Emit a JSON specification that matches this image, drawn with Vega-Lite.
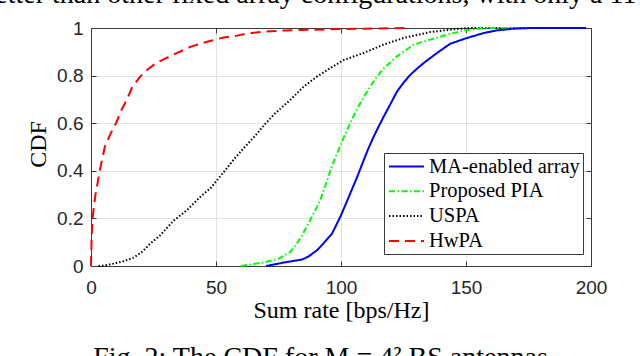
{
  "$schema": "https://vega.github.io/schema/vega-lite/v6.json",
  "width": 500,
  "height": 238,
  "autosize": {"type": "none"},
  "padding": {"left": 91, "top": 28, "right": 49, "bottom": 90},
  "background": "white",
  "config": {
    "view": {"stroke": null},
    "font": "Liberation Serif",
    "legend": {
      "orient": "none",
      "legendX": 293,
      "legendY": 125,
      "fillColor": "white",
      "strokeColor": "#3a3a3a",
      "padding": 2.5,
      "cornerRadius": 0,
      "symbolType": "M-1.75,0H1.75",
      "symbolSize": 400,
      "symbolOffset": 9,
      "symbolStrokeWidth": 2,
      "symbolFillColor": "transparent",
      "labelFont": "Liberation Serif",
      "labelFontSize": 20.5,
      "labelColor": "black",
      "labelOffset": 11.5,
      "rowPadding": 2.8,
      "labelLimit": 400
    }
  },
  "datasets": {
    "curves": [
      {"series": "HwPA", "rate": 0, "cdf": 0},
      {"series": "HwPA", "rate": 0.2, "cdf": 0.1},
      {"series": "HwPA", "rate": 0.6, "cdf": 0.2},
      {"series": "HwPA", "rate": 1.8, "cdf": 0.3},
      {"series": "HwPA", "rate": 3.5, "cdf": 0.4},
      {"series": "HwPA", "rate": 5.5, "cdf": 0.5},
      {"series": "HwPA", "rate": 8, "cdf": 0.56},
      {"series": "HwPA", "rate": 10, "cdf": 0.6},
      {"series": "HwPA", "rate": 12.4, "cdf": 0.66},
      {"series": "HwPA", "rate": 14.4, "cdf": 0.7},
      {"series": "HwPA", "rate": 16.4, "cdf": 0.75},
      {"series": "HwPA", "rate": 19.7, "cdf": 0.796},
      {"series": "HwPA", "rate": 22.4, "cdf": 0.824},
      {"series": "HwPA", "rate": 26.4, "cdf": 0.855},
      {"series": "HwPA", "rate": 33, "cdf": 0.888},
      {"series": "HwPA", "rate": 40, "cdf": 0.922},
      {"series": "HwPA", "rate": 46.4, "cdf": 0.942},
      {"series": "HwPA", "rate": 53, "cdf": 0.96},
      {"series": "HwPA", "rate": 58.4, "cdf": 0.968},
      {"series": "HwPA", "rate": 62, "cdf": 0.976},
      {"series": "HwPA", "rate": 69, "cdf": 0.985},
      {"series": "HwPA", "rate": 78, "cdf": 0.99},
      {"series": "HwPA", "rate": 89, "cdf": 0.993},
      {"series": "HwPA", "rate": 100, "cdf": 0.996},
      {"series": "HwPA", "rate": 115, "cdf": 0.998},
      {"series": "HwPA", "rate": 127, "cdf": 1},
      {"series": "USPA", "rate": 3, "cdf": 0},
      {"series": "USPA", "rate": 6, "cdf": 0.003},
      {"series": "USPA", "rate": 9, "cdf": 0.01},
      {"series": "USPA", "rate": 13, "cdf": 0.02},
      {"series": "USPA", "rate": 17, "cdf": 0.035},
      {"series": "USPA", "rate": 20.5, "cdf": 0.06},
      {"series": "USPA", "rate": 23.7, "cdf": 0.094},
      {"series": "USPA", "rate": 27.7, "cdf": 0.129},
      {"series": "USPA", "rate": 33, "cdf": 0.19},
      {"series": "USPA", "rate": 38.4, "cdf": 0.235},
      {"series": "USPA", "rate": 43.7, "cdf": 0.29},
      {"series": "USPA", "rate": 47.7, "cdf": 0.326},
      {"series": "USPA", "rate": 50.4, "cdf": 0.36},
      {"series": "USPA", "rate": 53.5, "cdf": 0.4},
      {"series": "USPA", "rate": 57.3, "cdf": 0.45},
      {"series": "USPA", "rate": 61.5, "cdf": 0.5},
      {"series": "USPA", "rate": 65.5, "cdf": 0.545},
      {"series": "USPA", "rate": 69.5, "cdf": 0.595},
      {"series": "USPA", "rate": 73.5, "cdf": 0.64},
      {"series": "USPA", "rate": 79.7, "cdf": 0.698},
      {"series": "USPA", "rate": 85.1, "cdf": 0.754},
      {"series": "USPA", "rate": 90.4, "cdf": 0.796},
      {"series": "USPA", "rate": 95.5, "cdf": 0.83},
      {"series": "USPA", "rate": 101, "cdf": 0.865},
      {"series": "USPA", "rate": 109, "cdf": 0.895},
      {"series": "USPA", "rate": 117, "cdf": 0.93},
      {"series": "USPA", "rate": 125, "cdf": 0.958},
      {"series": "USPA", "rate": 135.7, "cdf": 0.983},
      {"series": "USPA", "rate": 146.4, "cdf": 0.996},
      {"series": "USPA", "rate": 152, "cdf": 1},
      {"series": "USPA", "rate": 186, "cdf": 1},
      {"series": "Proposed PIA", "rate": 60, "cdf": 0},
      {"series": "Proposed PIA", "rate": 65, "cdf": 0.008},
      {"series": "Proposed PIA", "rate": 70, "cdf": 0.017},
      {"series": "Proposed PIA", "rate": 75, "cdf": 0.03},
      {"series": "Proposed PIA", "rate": 79.7, "cdf": 0.059},
      {"series": "Proposed PIA", "rate": 82, "cdf": 0.09},
      {"series": "Proposed PIA", "rate": 84, "cdf": 0.12},
      {"series": "Proposed PIA", "rate": 86, "cdf": 0.16},
      {"series": "Proposed PIA", "rate": 88, "cdf": 0.2},
      {"series": "Proposed PIA", "rate": 90, "cdf": 0.24},
      {"series": "Proposed PIA", "rate": 91.7, "cdf": 0.277},
      {"series": "Proposed PIA", "rate": 93.5, "cdf": 0.33},
      {"series": "Proposed PIA", "rate": 95.7, "cdf": 0.4},
      {"series": "Proposed PIA", "rate": 97.5, "cdf": 0.45},
      {"series": "Proposed PIA", "rate": 99.5, "cdf": 0.5},
      {"series": "Proposed PIA", "rate": 101.5, "cdf": 0.55},
      {"series": "Proposed PIA", "rate": 103.7, "cdf": 0.6},
      {"series": "Proposed PIA", "rate": 105.7, "cdf": 0.645},
      {"series": "Proposed PIA", "rate": 107.7, "cdf": 0.684},
      {"series": "Proposed PIA", "rate": 109.7, "cdf": 0.72},
      {"series": "Proposed PIA", "rate": 111.7, "cdf": 0.754},
      {"series": "Proposed PIA", "rate": 114, "cdf": 0.79},
      {"series": "Proposed PIA", "rate": 117.1, "cdf": 0.831},
      {"series": "Proposed PIA", "rate": 122.4, "cdf": 0.881},
      {"series": "Proposed PIA", "rate": 129, "cdf": 0.93},
      {"series": "Proposed PIA", "rate": 135.7, "cdf": 0.951},
      {"series": "Proposed PIA", "rate": 142.4, "cdf": 0.972},
      {"series": "Proposed PIA", "rate": 149, "cdf": 0.989},
      {"series": "Proposed PIA", "rate": 155.7, "cdf": 0.997},
      {"series": "Proposed PIA", "rate": 162, "cdf": 1},
      {"series": "Proposed PIA", "rate": 184, "cdf": 1},
      {"series": "MA-enabled array", "rate": 70, "cdf": 0},
      {"series": "MA-enabled array", "rate": 74, "cdf": 0.008},
      {"series": "MA-enabled array", "rate": 78.4, "cdf": 0.017},
      {"series": "MA-enabled array", "rate": 84.4, "cdf": 0.027},
      {"series": "MA-enabled array", "rate": 87, "cdf": 0.04},
      {"series": "MA-enabled array", "rate": 90.4, "cdf": 0.066},
      {"series": "MA-enabled array", "rate": 93, "cdf": 0.095},
      {"series": "MA-enabled array", "rate": 96.4, "cdf": 0.136},
      {"series": "MA-enabled array", "rate": 98, "cdf": 0.17},
      {"series": "MA-enabled array", "rate": 99.7, "cdf": 0.206},
      {"series": "MA-enabled array", "rate": 101.7, "cdf": 0.255},
      {"series": "MA-enabled array", "rate": 103.7, "cdf": 0.305},
      {"series": "MA-enabled array", "rate": 106.5, "cdf": 0.375},
      {"series": "MA-enabled array", "rate": 109.1, "cdf": 0.445},
      {"series": "MA-enabled array", "rate": 111, "cdf": 0.495},
      {"series": "MA-enabled array", "rate": 113.1, "cdf": 0.544},
      {"series": "MA-enabled array", "rate": 115, "cdf": 0.585},
      {"series": "MA-enabled array", "rate": 117.1, "cdf": 0.628},
      {"series": "MA-enabled array", "rate": 120, "cdf": 0.685},
      {"series": "MA-enabled array", "rate": 122.4, "cdf": 0.733},
      {"series": "MA-enabled array", "rate": 125, "cdf": 0.77},
      {"series": "MA-enabled array", "rate": 127.7, "cdf": 0.803},
      {"series": "MA-enabled array", "rate": 130.5, "cdf": 0.83},
      {"series": "MA-enabled array", "rate": 133.1, "cdf": 0.853},
      {"series": "MA-enabled array", "rate": 138.4, "cdf": 0.895},
      {"series": "MA-enabled array", "rate": 143.7, "cdf": 0.934},
      {"series": "MA-enabled array", "rate": 150.4, "cdf": 0.958},
      {"series": "MA-enabled array", "rate": 157.1, "cdf": 0.979},
      {"series": "MA-enabled array", "rate": 162.4, "cdf": 0.99},
      {"series": "MA-enabled array", "rate": 169, "cdf": 0.997},
      {"series": "MA-enabled array", "rate": 176, "cdf": 1},
      {"series": "MA-enabled array", "rate": 198, "cdf": 1}
    ]
  },
  "data": {"name": "curves"},
  "layer": [
    {
      "mark": {"type": "line", "clip": false},
      "encoding": {
        "x": {
          "field": "rate", "type": "quantitative",
          "scale": {"domain": [0, 200], "nice": false, "zero": false},
          "axis": {
            "orient": "bottom",
            "values": [0, 50, 100, 150, 200],
            "grid": true, "gridColor": "#e2e2e2", "gridWidth": 1,
            "domain": true, "domainColor": "#3a3a3a", "domainWidth": 1,
            "ticks": true, "tickColor": "#3a3a3a", "tickSize": -5, "tickWidth": 1,
            "labelFont": "Liberation Sans", "labelFontSize": 19, "labelColor": "#262626",
            "labelBaseline": "alphabetic", "labelPadding": 32, "labelFlush": false,
            "title": "Sum rate [bps/Hz]",
            "titleFont": "Liberation Serif", "titleFontSize": 24, "titleFontWeight": "normal",
            "titleColor": "black", "titleBaseline": "alphabetic", "titleY": 51, "titleX": 250
          }
        },
        "y": {
          "field": "cdf", "type": "quantitative",
          "scale": {"domain": [0, 1], "nice": false},
          "axis": {
            "orient": "left",
            "values": [0, 0.2, 0.4, 0.6, 0.8, 1],
            "format": "~g",
            "grid": true, "gridColor": "#e2e2e2", "gridWidth": 1,
            "domain": true, "domainColor": "#3a3a3a", "domainWidth": 1,
            "ticks": true, "tickColor": "#3a3a3a", "tickSize": -5, "tickWidth": 1,
            "labelFont": "Liberation Sans", "labelFontSize": 19, "labelColor": "#262626",
            "labelPadding": 13, "labelBaseline": "middle", "labelFlush": false,
            "title": "CDF",
            "titleFont": "Liberation Serif", "titleFontSize": 24, "titleFontWeight": "normal",
            "titleColor": "black", "titleAngle": 270, "titleBaseline": "alphabetic",
            "titleAlign": "center", "titleX": -46, "titleY": 116
          }
        },
        "color": {
          "field": "series", "type": "nominal",
          "scale": {
            "domain": ["MA-enabled array", "Proposed PIA", "USPA", "HwPA"],
            "range": ["#0000ff", "#00ff00", "#000000", "#ff0000"]
          },
          "legend": {"title": null}
        },
        "strokeDash": {
          "field": "series", "type": "nominal",
          "scale": {
            "domain": ["MA-enabled array", "Proposed PIA", "USPA", "HwPA"],
            "range": [[1, 0], [6, 2.5, 1.5, 2.5], [1.5, 2], [10, 6]]
          },
          "legend": {"title": null}
        },
        "strokeWidth": {
          "field": "series", "type": "nominal",
          "scale": {
            "domain": ["MA-enabled array", "Proposed PIA", "USPA", "HwPA"],
            "range": [2, 2, 2.2, 2.6]
          },
          "legend": null
        }
      }
    },
    {
      "mark": {"type": "point", "opacity": 0},
      "encoding": {
        "x": {
          "field": "rate", "type": "quantitative",
          "axis": {
            "orient": "top",
            "values": [0, 50, 100, 150, 200],
            "grid": false, "labels": false,
            "domain": true, "domainColor": "#3a3a3a", "domainWidth": 1,
            "ticks": true, "tickColor": "#3a3a3a", "tickSize": -5, "tickWidth": 1,
            "title": "better than other fixed array configurations, with only a 11%",
            "titleFont": "Liberation Serif", "titleFontSize": 28, "titleFontWeight": "normal",
            "titleColor": "black", "titleBaseline": "alphabetic", "titleAlign": "center",
            "titleX": 229, "titleY": -26
          }
        },
        "y": {
          "field": "cdf", "type": "quantitative",
          "axis": {
            "orient": "right",
            "values": [0, 0.2, 0.4, 0.6, 0.8, 1],
            "grid": false, "labels": false,
            "domain": true, "domainColor": "#3a3a3a", "domainWidth": 1,
            "ticks": true, "tickColor": "#3a3a3a", "tickSize": -5, "tickWidth": 1,
            "title": "Fig. 2: The CDF for M = 4² BS antennas",
            "titleFont": "Liberation Serif", "titleFontSize": 28, "titleFontWeight": "normal",
            "titleColor": "black", "titleAngle": 0, "titleBaseline": "alphabetic",
            "titleAlign": "center", "titleX": -271, "titleY": 337
          }
        }
      }
    }
  ],
  "resolve": {"axis": {"x": "independent", "y": "independent"}}
}
